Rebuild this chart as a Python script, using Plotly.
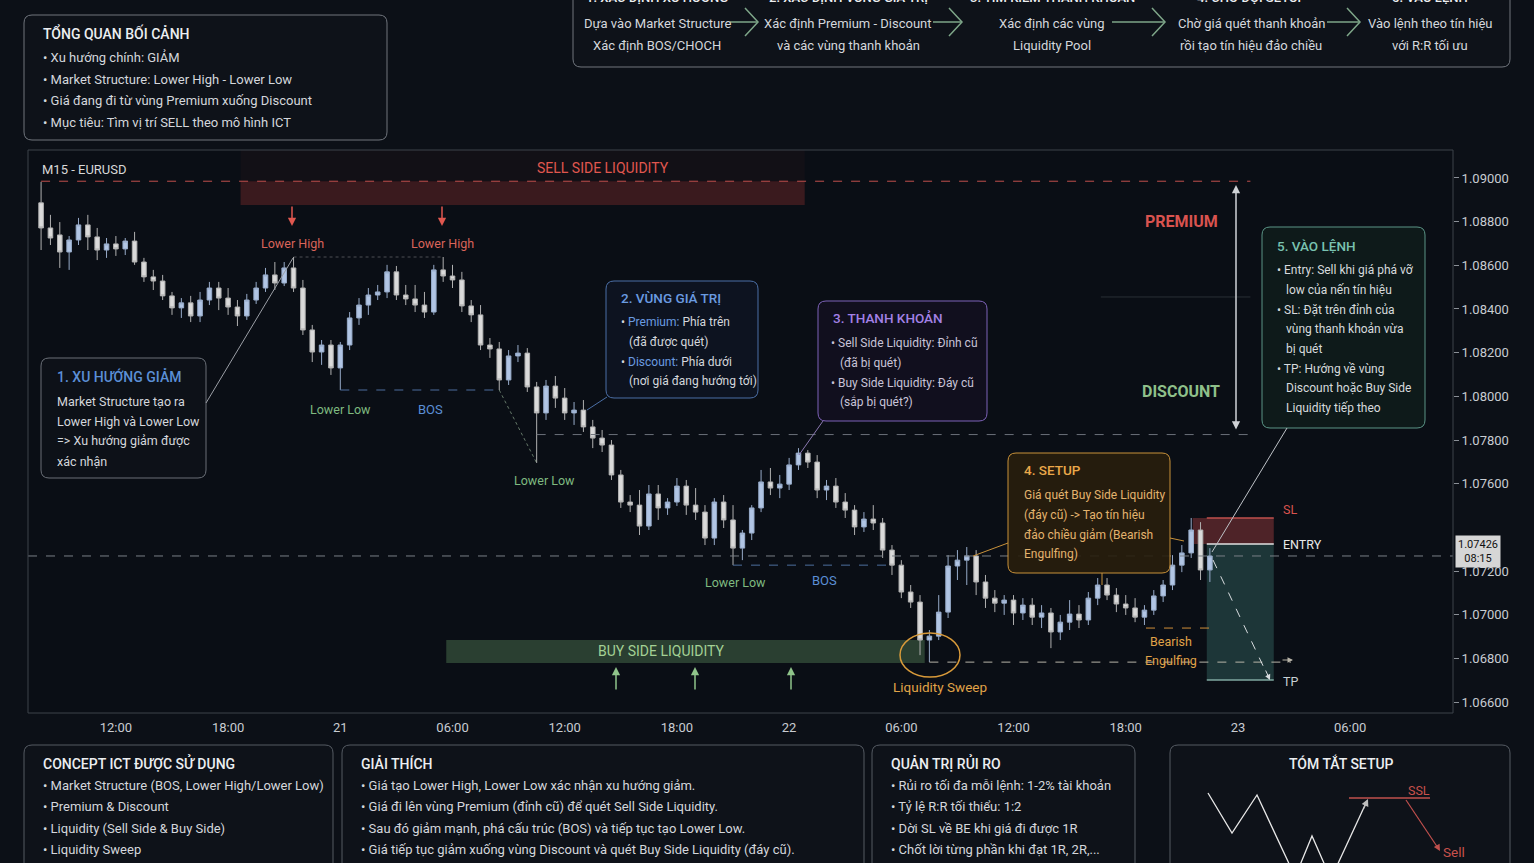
"""EURUSD M15 - phân tích setup SELL theo ICT

Vẽ biểu đồ nến cùng các vùng thanh khoản, Premium/Discount và hộp chú thích.
"""

import pandas as pd
import plotly.graph_objects as go

W, H = 1534, 863
FONT = "Roboto, 'Noto Sans', sans-serif"

# ---- dữ liệu nến (30 phút / nến) ----
opens = [
    1.08886, 1.08771, 1.08739, 1.08661, 1.08716, 1.08785, 1.08730, 1.08670, 1.08698, 1.08675,
    1.08711, 1.08615, 1.08547, 1.08528, 1.08460, 1.08405, 1.08428, 1.08368, 1.08441, 1.08496,
    1.08450, 1.08409, 1.08368, 1.08441, 1.08496, 1.08556, 1.08519, 1.08588, 1.08496, 1.08304,
    1.08203, 1.08235, 1.08130, 1.08235, 1.08359, 1.08418, 1.08464, 1.08478, 1.08570, 1.08464,
    1.08446, 1.08418, 1.08386, 1.08579, 1.08551, 1.08533, 1.08414, 1.08373, 1.08235, 1.08217,
    1.08075, 1.08185, 1.08198, 1.08043, 1.07924, 1.08047, 1.07992, 1.07924, 1.07937, 1.07860,
    1.07809, 1.07777, 1.07640, 1.07516, 1.07502, 1.07406, 1.07553, 1.07489, 1.07516, 1.07589,
    1.07502, 1.07470, 1.07351, 1.07516, 1.07434, 1.07305, 1.07374, 1.07489, 1.07608, 1.07580,
    1.07598, 1.07686, 1.07740, 1.07699, 1.07571, 1.07589, 1.07516, 1.07479, 1.07402, 1.07438,
    1.07420, 1.07296, 1.07227, 1.07104, 1.07058, 1.06884, 1.06902, 1.07012, 1.07223, 1.07250,
    1.07269, 1.07150, 1.07076, 1.07053, 1.07067, 1.07008, 1.07044, 1.06989, 1.07008, 1.06921,
    1.06966, 1.07003, 1.06976, 1.07076, 1.07136, 1.07090, 1.07049, 1.07031, 1.06989, 1.07021,
    1.07086, 1.07136, 1.07227, 1.07283, 1.07388, 1.07205,
]
highs = [
    1.08982, 1.08831, 1.08798, 1.08734, 1.08817, 1.08831, 1.08771, 1.08725, 1.08734, 1.08725,
    1.08753, 1.08634, 1.08579, 1.08556, 1.08478, 1.08450, 1.08460, 1.08478, 1.08524, 1.08524,
    1.08496, 1.08441, 1.08469, 1.08524, 1.08588, 1.08615, 1.08615, 1.08638, 1.08533, 1.08327,
    1.08258, 1.08258, 1.08249, 1.08386, 1.08450, 1.08496, 1.08510, 1.08602, 1.08597, 1.08510,
    1.08510, 1.08478, 1.08602, 1.08638, 1.08602, 1.08570, 1.08441, 1.08418, 1.08267, 1.08249,
    1.08212, 1.08235, 1.08221, 1.08066, 1.08075, 1.08093, 1.08038, 1.07974, 1.07983, 1.07892,
    1.07846, 1.07800, 1.07663, 1.07548, 1.07571, 1.07594, 1.07594, 1.07534, 1.07626, 1.07617,
    1.07580, 1.07502, 1.07534, 1.07548, 1.07502, 1.07388, 1.07502, 1.07663, 1.07672, 1.07640,
    1.07718, 1.07763, 1.07754, 1.07731, 1.07617, 1.07626, 1.07557, 1.07502, 1.07470, 1.07502,
    1.07443, 1.07319, 1.07250, 1.07136, 1.07090, 1.06930, 1.07090, 1.07273, 1.07296, 1.07310,
    1.07296, 1.07182, 1.07113, 1.07090, 1.07090, 1.07076, 1.07076, 1.07044, 1.07031, 1.06999,
    1.07067, 1.07044, 1.07104, 1.07168, 1.07168, 1.07122, 1.07090, 1.07076, 1.07044, 1.07113,
    1.07159, 1.07273, 1.07319, 1.07443, 1.07424, 1.07305,
]
lows = [
    1.08670, 1.08693, 1.08588, 1.08579, 1.08693, 1.08670, 1.08624, 1.08634, 1.08643, 1.08647,
    1.08602, 1.08524, 1.08487, 1.08441, 1.08373, 1.08359, 1.08340, 1.08340, 1.08418, 1.08395,
    1.08373, 1.08322, 1.08350, 1.08423, 1.08478, 1.08487, 1.08505, 1.08478, 1.08281, 1.08157,
    1.08144, 1.08098, 1.08029, 1.08212, 1.08327, 1.08373, 1.08441, 1.08450, 1.08441, 1.08418,
    1.08386, 1.08359, 1.08373, 1.08524, 1.08496, 1.08386, 1.08340, 1.08212, 1.08176, 1.08029,
    1.08052, 1.08157, 1.08020, 1.07695, 1.07892, 1.07947, 1.07892, 1.07869, 1.07837, 1.07763,
    1.07745, 1.07617, 1.07489, 1.07470, 1.07365, 1.07388, 1.07434, 1.07457, 1.07498, 1.07457,
    1.07434, 1.07319, 1.07319, 1.07397, 1.07227, 1.07250, 1.07342, 1.07470, 1.07548, 1.07534,
    1.07571, 1.07663, 1.07672, 1.07534, 1.07525, 1.07489, 1.07443, 1.07365, 1.07379, 1.07388,
    1.07260, 1.07182, 1.07076, 1.07031, 1.06815, 1.06783, 1.06884, 1.06985, 1.07159, 1.07136,
    1.07090, 1.07031, 1.07012, 1.06999, 1.06953, 1.06976, 1.06953, 1.06939, 1.06847, 1.06884,
    1.06930, 1.06939, 1.06953, 1.07044, 1.07067, 1.07012, 1.06999, 1.06966, 1.06953, 1.06999,
    1.07058, 1.07113, 1.07195, 1.07260, 1.07159, 1.07150,
]
closes = [
    1.08771, 1.08725, 1.08661, 1.08716, 1.08785, 1.08730, 1.08670, 1.08698, 1.08675, 1.08711,
    1.08615, 1.08547, 1.08528, 1.08460, 1.08405, 1.08428, 1.08368, 1.08441, 1.08496, 1.08450,
    1.08409, 1.08368, 1.08441, 1.08496, 1.08556, 1.08519, 1.08588, 1.08496, 1.08304, 1.08203,
    1.08235, 1.08130, 1.08235, 1.08359, 1.08418, 1.08464, 1.08478, 1.08570, 1.08464, 1.08446,
    1.08418, 1.08386, 1.08579, 1.08551, 1.08533, 1.08414, 1.08373, 1.08235, 1.08217, 1.08075,
    1.08185, 1.08198, 1.08043, 1.07924, 1.08047, 1.07992, 1.07924, 1.07937, 1.07860, 1.07809,
    1.07777, 1.07640, 1.07516, 1.07502, 1.07406, 1.07553, 1.07489, 1.07516, 1.07589, 1.07502,
    1.07470, 1.07351, 1.07516, 1.07434, 1.07305, 1.07374, 1.07489, 1.07608, 1.07580, 1.07598,
    1.07686, 1.07740, 1.07699, 1.07571, 1.07589, 1.07516, 1.07479, 1.07402, 1.07438, 1.07420,
    1.07296, 1.07227, 1.07104, 1.07058, 1.06884, 1.06902, 1.07012, 1.07223, 1.07250, 1.07269,
    1.07150, 1.07076, 1.07053, 1.07067, 1.07008, 1.07044, 1.06989, 1.07008, 1.06921, 1.06966,
    1.07003, 1.06976, 1.07076, 1.07136, 1.07090, 1.07049, 1.07031, 1.06989, 1.07021, 1.07086,
    1.07136, 1.07227, 1.07283, 1.07388, 1.07205, 1.07269,
]
times = pd.date_range("2024-05-20 08:00", periods=len(closes), freq="30min")
times = times.strftime("%Y-%m-%d %H:%M").tolist()

# nhãn trục
x_tickvals = [
    "2024-05-20 12:00", "2024-05-20 18:00", "2024-05-21 00:00", "2024-05-21 06:00",
    "2024-05-21 12:00", "2024-05-21 18:00", "2024-05-22 00:00", "2024-05-22 06:00",
    "2024-05-22 12:00", "2024-05-22 18:00", "2024-05-23 00:00", "2024-05-23 06:00",
]
x_ticktext = ["12:00", "18:00", "21", "06:00", "12:00", "18:00", "22",
              "06:00", "12:00", "18:00", "23", "06:00"]
y_tickvals = [1.066, 1.068, 1.070, 1.072, 1.076, 1.078, 1.080,
              1.082, 1.084, 1.086, 1.088, 1.090]
last_price_text = "1.07426<br>08:15"

# các mức giá / vùng
ssl_level = 1.08985
ssl_zone_low = 1.08876
ssl_zone_time = ["2024-05-20 18:40", "2024-05-22 00:50"]
discount_level = 1.07825
mid_level = 1.08455
level_end_time = "2024-05-23 00:40"
mid_start_time = "2024-05-22 16:40"
bsl_zone = [1.06779, 1.06884]
bsl_zone_time = ["2024-05-21 05:40", "2024-05-22 07:15"]
sweep_end_time = "2024-05-23 02:50"
engulf_level = 1.06939
engulf_start_time = "2024-05-22 19:05"
sl_level = 1.07443
entry_level = 1.07324
tp_level = 1.06701
sl_zone_start = "2024-05-22 21:35"
trade_time = ["2024-05-22 22:20", "2024-05-23 01:55"]
lower_high_idx = [27, 43]
bos_idx = [[32, 49], [74, 91]]
lower_low_idx = 53
sweep_idx = 95


def px(x):
    return x / W


def py(y):
    return 1 - y / H


shapes = []
annotations = []


def note(x, y, text, color="#d4d7dc", size=13, anchor="left", weight="normal"):
    annotations.append(dict(
        x=px(x), y=py(y), xref="paper", yref="paper", text=text, showarrow=False,
        xanchor=anchor, yanchor="middle",
        font=dict(color=color, size=size, family=FONT, weight=weight),
    ))


def seg(x0, y0, x1, y1, color, width=1, dash="solid"):
    shapes.append(dict(
        type="line", xref="paper", yref="paper",
        x0=px(x0), y0=py(y0), x1=px(x1), y1=py(y1),
        line=dict(color=color, width=width, dash=dash),
    ))


def path(points, color, width=1.5):
    d = ""
    for i, (x, y) in enumerate(points):
        d += ("M" if i == 0 else "L") + f"{px(x):.5f},{py(y):.5f} "
    shapes.append(dict(type="path", xref="paper", yref="paper", path=d,
                       line=dict(color=color, width=width)))


def rbox(x0, y0, x1, y1, border, fill="#0e1219", r=8):
    rx, ry = r / W, r / H
    a, b, c, d = px(x0), py(y0), px(x1), py(y1)
    p = (
        f"M{a + rx},{b} L{c - rx},{b} Q{c},{b} {c},{b - ry} "
        f"L{c},{d + ry} Q{c},{d} {c - rx},{d} "
        f"L{a + rx},{d} Q{a},{d} {a},{d + ry} "
        f"L{a},{b - ry} Q{a},{b} {a + rx},{b} Z"
    )
    shapes.append(dict(type="path", xref="paper", yref="paper", path=p,
                       line=dict(color=border, width=1), fillcolor=fill, layer="above"))


def arrow(x, y, ax, ay, color, width=1.5, side="end", head=2):
    annotations.append(dict(
        x=px(x), y=py(y), xref="paper", yref="paper", ax=ax, ay=ay,
        text="", showarrow=True, arrowhead=head, arrowsize=1.1, arrowwidth=width,
        arrowcolor=color, arrowside=side,
    ))


def hline(level, t0, t1, color, width=1, dash="dash"):
    shapes.append(dict(type="line", xref="x", yref="y", x0=t0, x1=t1, y0=level, y1=level,
                       line=dict(color=color, width=width, dash=dash)))


def zone(t0, t1, y0, y1, fill):
    shapes.append(dict(type="rect", xref="x", yref="y", x0=t0, x1=t1, y0=y0, y1=y1,
                       fillcolor=fill, line=dict(width=0), layer="below"))


# ---- biểu đồ nến ----
fig = go.Figure()
fig.add_trace(
    go.Candlestick(
        x=times, open=opens, high=highs, low=lows, close=closes,
        increasing=dict(line=dict(color="#97abc9", width=1), fillcolor="#b1c5e4"),
        decreasing=dict(line=dict(color="#b0b0b0", width=1), fillcolor="#dadada"),
        whiskerwidth=0, showlegend=False, hoverinfo="skip",
    )
)

# ---- vùng & mức giá ----
zone(ssl_zone_time[0], ssl_zone_time[1], ssl_level, 1.0913, "rgba(130,40,40,0.07)")
zone(ssl_zone_time[0], ssl_zone_time[1], ssl_zone_low, ssl_level, "rgba(150,50,50,0.35)")
hline(ssl_level, times[0], level_end_time, "#c0504d")
hline(highs[lower_high_idx[0]], times[lower_high_idx[0]], times[lower_high_idx[1]],
      "rgba(200,200,200,0.35)", dash="dot")
for i0, i1 in bos_idx:
    hline(lows[i0], times[i0], times[i1], "#4d6d9e")
shapes.append(dict(type="line", xref="x", yref="y", x0=times[49], y0=lows[49],
                   x1=times[lower_low_idx], y1=lows[lower_low_idx],
                   line=dict(color="rgba(160,190,160,0.6)", width=1, dash="dot")))
hline(discount_level, times[lower_low_idx], level_end_time, "#6a7078")
hline(mid_level, mid_start_time, level_end_time, "rgba(140,145,150,0.25)", dash="solid")
zone(bsl_zone_time[0], bsl_zone_time[1], bsl_zone[0], bsl_zone[1], "rgba(95,145,95,0.38)")
hline(lows[sweep_idx], times[sweep_idx], sweep_end_time, "#b8b4a8")
hline(engulf_level, engulf_start_time, times[-1], "#d08f3a")
zone(sl_zone_start, trade_time[1], entry_level, sl_level, "rgba(190,70,70,0.38)")
zone(trade_time[0], trade_time[1], tp_level, entry_level, "rgba(70,140,130,0.32)")
hline(sl_level, trade_time[0], trade_time[1], "#c0504d", width=1.5, dash="solid")
hline(entry_level, trade_time[0], trade_time[1], "#e0e0e0", width=1.5, dash="solid")
hline(tp_level, trade_time[0], trade_time[1], "#7fa8a0", width=1.5, dash="solid")
shapes.append(dict(type="line", xref="paper", yref="y", x0=px(28), x1=px(1453),
                   y0=closes[-1], y1=closes[-1],
                   line=dict(color="#7a7f87", width=1, dash="dash")))

# khung biểu đồ
shapes.append(dict(type="rect", xref="paper", yref="paper", x0=px(28), x1=px(1453),
                   y0=py(713), y1=py(150), line=dict(color="#3d424a", width=1)))

# ---- hộp tổng quan ----
rbox(24, 15, 387, 140, "#70757d")
note(41, 33, "TỔNG QUAN BỐI CẢNH", "#eceef1", 14, weight=500)
for yy, t in zip([57, 79, 101, 123], [
    "• Xu hướng chính: GIẢM",
    "• Market Structure: Lower High - Lower Low",
    "• Giá đang đi từ vùng Premium xuống Discount",
    "• Mục tiêu: Tìm vị trí SELL theo mô hình ICT",
]):
    note(41, yy, t, size=13)

# ---- các bước ----
rbox(573, -12, 1510, 67, "#70757d")
step_x = [657, 848, 1052, 1251, 1430]
step_head = ["1. XÁC ĐỊNH XU HƯỚNG", "2. XÁC ĐỊNH VÙNG GIÁ TRỊ", "3. TÌM KIẾM THANH KHOẢN",
             "4. CHỜ ĐỢI SETUP", "5. VÀO LỆNH"]
step_l1 = ["Dựa vào Market Structure", "Xác định Premium - Discount", "Xác định các vùng",
           "Chờ giá quét thanh khoản", "Vào lệnh theo tín hiệu"]
step_l2 = ["Xác định BOS/CHOCH", "và các vùng thanh khoản", "Liquidity Pool",
           "rồi tạo tín hiệu đảo chiều", "với R:R tối ưu"]
for sx, h1, l1, l2 in zip(step_x, step_head, step_l1, step_l2):
    note(sx, -3, h1, "#eceef1", 13, "center", weight=500)
    note(sx, 24, l1, size=13, anchor="center")
    note(sx, 46, l2, size=13, anchor="center")
for x0, tip in [(730, 758), (933, 962), (1112, 1165), (1327, 1360)]:
    seg(x0, 22, tip - 1, 22, "#7ea689", 1.5)
    path([(tip - 13, 8), (tip, 22), (tip - 13, 36)], "#7ea689", 1.5)

# ---- nhãn trong biểu đồ ----
note(40, 170, "M15 - EURUSD", "#d8d8d8", 13)
note(603, 168, "SELL SIDE LIQUIDITY", "#e0574f", 14, "center")
for xx in [292, 442]:
    arrow(xx, 226, 0, -21, "#e0574f")
    note(xx, 243, "Lower High", "#d9645a", 12.5, "center")

rbox(41, 358, 206, 478, "#6a6f77", "#0d1118")
note(55, 377, "1. XU HƯỚNG GIẢM", "#5b8fd6", 14, weight=500)
for yy, t in zip([401, 421, 441, 461], ["Market Structure tạo ra", "Lower High và Lower Low",
                                         "=> Xu hướng giảm được", "xác nhận"]):
    note(55, yy, t, "#d4d7dc", 12.5)
seg(206, 403, 293, 258, "#9a9ea5")

note(340, 409, "Lower Low", "#7fba80", 12.5, "center")
note(430, 409, "BOS", "#5b8fd6", 13, "center")
note(544, 480, "Lower Low", "#7fba80", 12.5, "center")
note(735, 582, "Lower Low", "#7fba80", 12.5, "center")
note(824, 580, "BOS", "#5b8fd6", 13, "center")

rbox(606, 281, 758, 398, "#4b6fa6", "#0d1320")
note(619, 298, "2. VÙNG GIÁ TRỊ", "#6a9be0", 13.5, weight=500)
note(619, 322, "• <span style='color:#6a9be0'>Premium:</span> Phía trên", size=12)
note(627, 342, "(đã được quét)", size=12)
note(619, 362, "• <span style='color:#6a9be0'>Discount:</span> Phía dưới", size=12)
note(627, 381, "(nơi giá đang hướng tới)", size=12)
seg(607, 397, 587, 410, "#4b6fa6")

rbox(818, 301, 987, 421, "#7d62b8", "#110f1e")
note(831, 318, "3. THANH KHOẢN", "#a381e6", 13.5, weight=500)
note(829, 343, "• Sell Side Liquidity: Đỉnh cũ", "#c8c3d8", 12)
note(838, 363, "(đã bị quét)", "#c8c3d8", 12)
note(829, 383, "• Buy Side Liquidity: Đáy cũ", "#c8c3d8", 12)
note(838, 402, "(sắp bị quét?)", "#c8c3d8", 12)
seg(823, 421, 799, 455, "#8a78b0")

note(1181, 221, "PREMIUM", "#d9534f", 16, "center", weight="bold")
note(1181, 392, "DISCOUNT", "#8fc08a", 16, "center", weight="bold")
arrow(1236, 185, 0, 246, "#cfd2d6", 1.5, "end+start")

rbox(1262, 227, 1425, 428, "#5b9486", "#0e1a1a")
note(1275, 246, "5. VÀO LỆNH", "#79c2b0", 13.5, weight=500)
for yy, xx, t in zip(
    [270, 290, 310, 329, 349, 369, 388, 408],
    [1275, 1284, 1275, 1284, 1284, 1275, 1284, 1284],
    ["• Entry: Sell khi giá phá vỡ", "low của nến tín hiệu", "• SL: Đặt trên đỉnh của",
     "vùng thanh khoản vừa", "bị quét", "• TP: Hướng về vùng", "Discount hoặc Buy Side",
     "Liquidity tiếp theo"],
):
    note(xx, yy, t, "#d7dadd", 12)
seg(1287, 428, 1212, 552, "#bfc3c8")

rbox(1008, 453, 1170, 573, "#c8913a", "rgba(40,30,12,0.9)")
note(1022, 470, "4. SETUP", "#eaa84a", 13.5, weight=500)
for yy, t in zip([495, 515, 535, 554], ["Giá quét Buy Side Liquidity", "(đáy cũ) -> Tạo tín hiệu",
                                         "đảo chiều giảm (Bearish", "Engulfing)"]):
    note(1022, yy, t, "#e3b36e", 12)
seg(1008, 543, 973, 556, "#c8913a")
seg(1170, 538, 1184, 541, "#c8913a")
seg(1102, 573, 1102, 585, "#c8913a")

shapes.append(dict(type="circle", xref="paper", yref="paper", x0=px(900), x1=px(960),
                   y0=py(677), y1=py(633), line=dict(color="#d89a3a", width=1.5)))
note(940, 687, "Liquidity Sweep", "#e0a348", 13.5, "center")
note(661, 651, "BUY SIDE LIQUIDITY", "#a3d194", 14, "center")
for xx in [616, 695, 791]:
    arrow(xx, 667, 0, 24, "#8fc48a")
arrow(1293, 660, -12, 0, "#b8b4a8", 1)

note(1171, 641, "Bearish", "#e0a348", 12.5, "center")
note(1171, 660, "Engulfing", "#e0a348", 12.5, "center")
note(1281, 509, "SL", "#d9534f", 12.5)
note(1281, 544, "ENTRY", "#e8e8e8", 12.5)
note(1281, 681, "TP", "#c8d0d4", 12.5)
seg(1213, 560, 1266, 672, "#d8dcdf", 1, "dash")
arrow(1270, 680, -5, -11, "#d8dcdf", 1)

# giá hiện tại
annotations.append(dict(
    x=px(1455), y=closes[-1], xref="paper", yref="y", text=last_price_text,
    showarrow=False, xanchor="left", yanchor="middle", align="center", yshift=4,
    bgcolor="#d6d6d6", borderpad=2, font=dict(color="#111111", size=11, family=FONT),
))

# ---- các hộp phía dưới ----
bottom = [
    (24, 333, "CONCEPT ICT ĐƯỢC SỬ DỤNG", [
        "• Market Structure (BOS, Lower High/Lower Low)", "• Premium &amp; Discount",
        "• Liquidity (Sell Side &amp; Buy Side)", "• Liquidity Sweep"]),
    (342, 864, "GIẢI THÍCH", [
        "• Giá tạo Lower High, Lower Low xác nhận xu hướng giảm.",
        "• Giá đi lên vùng Premium (đỉnh cũ) để quét Sell Side Liquidity.",
        "• Sau đó giảm mạnh, phá cấu trúc (BOS) và tiếp tục tạo Lower Low.",
        "• Giá tiếp tục giảm xuống vùng Discount và quét Buy Side Liquidity (đáy cũ)."]),
    (872, 1135, "QUẢN TRỊ RỦI RO", [
        "• Rủi ro tối đa mỗi lệnh: 1-2% tài khoản", "• Tỷ lệ R:R tối thiểu: 1:2",
        "• Dời SL về BE khi giá đi được 1R", "• Chốt lời từng phần khi đạt 1R, 2R,..."]),
]
for x0, x1, title, lines in bottom:
    rbox(x0, 745, x1, 885, "#555b63")
    note(x0 + 17, 763, title, "#eceef1", 14, weight=500)
    for yy, t in zip([785, 806, 828, 849], lines):
        note(x0 + 17, yy, t, size=13)

rbox(1170, 745, 1510, 885, "#555b63")
note(1341, 763, "TÓM TẮT SETUP", "#eceef1", 14, "center", weight=500)
path([(1208, 793), (1232, 833), (1257, 795), (1292, 870)], "#e8e8e8", 1.3)
path([(1298, 870), (1312, 836), (1327, 870)], "#e8e8e8", 1.3)
path([(1335, 870), (1366, 803)], "#e8e8e8", 1.3)
arrow(1368, 799, -5, 11, "#bdbdbd", 1.3)
seg(1349, 798, 1430, 798, "#c0504d", 1.5)
note(1419, 790, "SSL", "#c9514c", 12.5, "center")
seg(1406, 800, 1438, 848, "#c0504d", 1.2)
arrow(1440, 851, -4, -7, "#c0504d", 1.2)
note(1441, 852, "Sell", "#c9514c", 13.5)

# ---- bố cục ----
fig.update_layout(
    width=W,
    height=H,
    margin=dict(l=0, r=0, t=0, b=0),
    paper_bgcolor="#0c1017",
    plot_bgcolor="#0a0e15",
    font=dict(family=FONT, color="#c8ccd2"),
    showlegend=False,
    shapes=shapes,
    annotations=annotations,
    xaxis=dict(
        type="date",
        domain=[px(28), px(1453)],
        range=["2024-05-20 07:18", "2024-05-23 11:30"],
        tickvals=x_tickvals,
        ticktext=x_ticktext,
        tickfont=dict(size=13, color="#c8ccd2"),
        ticklabelstandoff=5,
        showgrid=False,
        zeroline=False,
        showline=False,
        rangeslider=dict(visible=False),
        fixedrange=True,
    ),
    yaxis=dict(
        domain=[py(713), py(150)],
        range=[1.06550, 1.09128],
        side="right",
        tickvals=y_tickvals,
        tickformat=".5f",
        tickfont=dict(size=13, color="#c8ccd2"),
        ticks="outside",
        ticklen=5,
        tickcolor="#8a8f96",
        showgrid=False,
        zeroline=False,
        showline=False,
        fixedrange=True,
    ),
)

# bỏ lề mặc định của trang để biểu đồ nằm sát góc
fig.write_html(
    "out.html",
    config={"displayModeBar": False},
    post_script="document.body.style.margin='0';document.body.style.background='#0c1017';",
)
